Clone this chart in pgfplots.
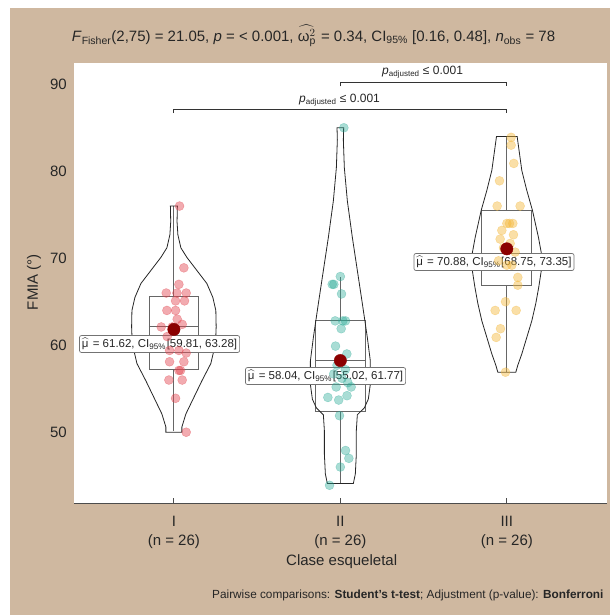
\documentclass[border=0pt]{standalone}
\usepackage{amsmath}
\usepackage{pgfplots}
\pgfplotsset{compat=1.18}
\usepackage{fontspec}
\setmainfont{Liberation Sans}
\definecolor{tanbg}{RGB}{207,184,160}
\definecolor{cI}{RGB}{228,70,80}
\definecolor{cII}{RGB}{40,170,150}
\definecolor{cIII}{RGB}{245,185,60}
\definecolor{meanred}{RGB}{139,0,0}
\begin{document}
\begin{tikzpicture}[x=1pt,y=1pt]
\path[use as bounding box, fill=white] (0,0) rectangle (610,615);
\fill[tanbg] (10,0) rectangle (610,607);
\begin{axis}[
  at={(74pt,111.7pt)}, anchor=south west,
  width=532.7pt, height=440.6pt, scale only axis,
  xmin=0.4, xmax=3.6, ymin=41.63, ymax=92.28,
  clip=false,
  axis background/.style={fill=white},
  axis x line*=bottom, axis y line*=left,
  x axis line style={draw=black!70, line width=0.8pt, -},
  y axis line style={draw=none},
  xtick={1,2,3},
  xticklabels={{I\\(n = 26)},{II\\(n = 26)},{III\\(n = 26)}},
  ytick={50,60,70,80,90},
  tick align=inside,
  major tick length=5pt,
  xtick style={draw=black!70, line width=0.8pt},
  ytick style={draw=none},
  /pgf/number format/assume math mode=true,
  tick label style={font=\fontsize{15}{19}\selectfont, text=black!85},
  yticklabel style={anchor=east, inner sep=0pt, xshift=-7pt, yshift=-2pt},
  xticklabel style={anchor=north, inner sep=0pt, align=center, yshift=-13pt},
  xlabel={Clase esqueletal}, ylabel={FMIA (°)},
  label style={font=\fontsize{15}{18}\selectfont, text=black!85},
  xlabel style={at={(axis description cs:0.5025,-0.133)}, anchor=center},
  ylabel style={at={(axis description cs:-0.075,0.502)}, anchor=center},
  title={\textit{F}\textsubscript{Fisher}(2,75) = 21.05, \textit{p} = < 0.001, $\widehat{\text{ω}_{\text{p}}^{2}}$\kern1pt{} = 0.34, CI\textsubscript{95\%} [0.16, 0.48], \textit{n}\textsubscript{obs} = 78},
  title style={at={(axis description cs:0.4496,1.0477)}, anchor=center, yshift=0pt, font=\fontsize{15}{18}\selectfont, text=black!85},
]
% jittered points
\addplot[only marks, mark=*, mark size=4.5pt, color=cI, opacity=0.45] coordinates {
(1.034,75.8)(1.060,68.7)(1.030,66.8)(0.954,65.8)(1.018,65.8)(1.074,65.8)
(1.010,64.9)(1.064,64.9)(0.958,63.8)(1.010,63.8)(1.020,62.8)(0.924,61.9)
(0.990,61.9)(0.974,59.2)(1.030,59.2)(1.074,58.9)(0.974,57.9)(1.060,57.9)
(1.030,56.9)(1.040,56.9)(0.970,55.8)(1.050,55.8)(1.010,53.7)(1.074,49.8)
(0.960,60.8)(1.050,62.2)};
\addplot[only marks, mark=*, mark size=4.5pt, color=cII, opacity=0.4] coordinates {
(2.021,84.8)(2.000,67.7)(1.951,66.8)(1.961,66.8)(2.007,65.7)(1.969,62.6)
(2.015,62.6)(2.031,62.6)(2.005,61.7)(1.971,59.7)(2.039,58.8)(1.975,55.0)
(2.065,55.0)(1.925,53.8)(1.995,51.7)(2.031,47.7)(2.051,46.8)(2.000,45.8)
(1.935,43.7)(1.980,57.5)(2.030,57.0)(1.960,56.5)(2.010,56.0)(2.045,55.5)
(1.990,53.5)(2.040,54.0)};
\addplot[only marks, mark=*, mark size=4.5pt, color=cIII, opacity=0.45] coordinates {
(3.026,83.7)(3.026,82.8)(3.042,80.7)(2.956,78.7)(2.942,75.8)(3.080,75.8)
(3.000,73.8)(3.016,73.8)(3.036,73.8)(3.066,67.6)(3.066,66.7)(2.992,64.8)
(2.930,63.8)(3.056,63.8)(2.962,61.7)(2.936,60.7)(2.992,56.7)(2.970,73.0)
(3.040,72.5)(2.960,72.0)(3.020,71.5)(2.980,71.0)(3.050,70.5)(2.950,69.5)
(3.030,69.0)(3.000,69.0)};
% boxplots: box, median, whiskers
\pgfplotsset{boxline/.style={draw=black!60, line width=0.8pt}}
\addplot[boxline] coordinates {(0.85,57.0)(1.15,57.0)(1.15,65.4)(0.85,65.4)} -- cycle;
\addplot[boxline] coordinates {(0.85,62.0)(1.15,62.0)};
\addplot[boxline] coordinates {(1,65.4)(1,75.8)};
\addplot[boxline] coordinates {(1,57.0)(1,49.9)};
\addplot[boxline] coordinates {(1.85,52.2)(2.15,52.2)(2.15,62.7)(1.85,62.7)} -- cycle;
\addplot[boxline] coordinates {(1.85,58.0)(2.15,58.0)};
\addplot[boxline] coordinates {(2,62.7)(2,67.6)};
\addplot[boxline] coordinates {(2,52.2)(2,43.9)};
\addplot[boxline] coordinates {(2.85,66.7)(3.15,66.7)(3.15,75.3)(2.85,75.3)} -- cycle;
\addplot[boxline] coordinates {(2.85,70.0)(3.15,70.0)};
\addplot[boxline] coordinates {(3,75.3)(3,83.8)};
\addplot[boxline] coordinates {(3,66.7)(3,56.7)};
% violins
\addplot[draw=black!85, line width=0.8pt] coordinates {
(0.952,49.8)(0.952,50.4)(0.928,51.9)(0.880,53.8)(0.832,55.7)(0.778,57.7)
(0.750,60.0)(0.746,61.9)(0.748,63.8)(0.766,65.3)(0.802,66.9)(0.862,68.4)
(0.922,69.9)(0.958,71.0)(0.976,72.5)(0.981,74.0)(0.979,75.8)
(1.021,75.8)(1.019,74.0)(1.024,72.5)(1.042,71.0)(1.078,69.9)(1.138,68.4)
(1.198,66.9)(1.234,65.3)(1.252,63.8)(1.254,61.9)(1.250,60.0)(1.222,57.7)
(1.168,55.7)(1.120,53.8)(1.072,51.9)(1.048,50.4)(1.048,49.8)} -- cycle;
\addplot[draw=black!85, line width=0.8pt] coordinates {
(1.922,43.9)(1.910,45.0)(1.904,47.3)(1.904,50.0)(1.898,51.8)(1.856,52.6)
(1.832,53.6)(1.820,55.3)(1.820,58.0)(1.838,60.7)(1.868,64.6)(1.898,68.4)
(1.928,72.2)(1.958,76.4)(1.976,80.2)(1.982,83.4)(1.980,84.8)
(2.020,84.8)(2.018,83.4)(2.024,80.2)(2.042,76.4)(2.072,72.2)(2.102,68.4)
(2.132,64.6)(2.162,60.7)(2.180,58.0)(2.180,55.3)(2.168,53.6)(2.144,52.6)
(2.102,51.8)(2.096,50.0)(2.096,47.3)(2.090,45.0)(2.078,43.9)} -- cycle;
\addplot[draw=black!85, line width=0.8pt] coordinates {
(2.946,56.7)(2.934,57.5)(2.910,58.8)(2.880,60.7)(2.850,62.6)(2.826,64.6)
(2.808,66.5)(2.784,69.5)(2.810,72.2)(2.846,75.3)(2.880,77.6)(2.910,79.9)
(2.938,83.8)
(3.062,83.8)(3.090,79.9)(3.120,77.6)(3.154,75.3)(3.190,72.2)(3.216,69.5)
(3.192,66.5)(3.174,64.6)(3.150,62.6)(3.120,60.7)(3.090,58.8)(3.066,57.5)
(3.054,56.7)} -- cycle;
% means
\addplot[only marks, mark=*, mark size=6.2pt, color=meanred] coordinates {
(1,61.62)(2,58.04)(3,70.88)};
% mean labels
\tikzset{mlab/.style={draw=black!55, line width=0.7pt, rounded corners=2pt, fill=white,
  inner sep=2.5pt, font=\fontsize{11.5}{13}\selectfont, text=black!85}}
\node[mlab] at (axis cs:0.914,59.94) {$\widehat{\text{μ}}$\kern1pt{} = 61.62, CI\textsubscript{95\%}\kern0.8pt[59.81, 63.28]};
\node[mlab] at (axis cs:1.911,56.26) {$\widehat{\text{μ}}$\kern1pt{} = 58.04, CI\textsubscript{95\%}\kern0.8pt[55.02, 61.77]};
\node[mlab] at (axis cs:2.923,69.37) {$\widehat{\text{μ}}$\kern1pt{} = 70.88, CI\textsubscript{95\%}\kern0.8pt[68.75, 73.35]};
% significance brackets
\addplot[draw=black!80, line width=1pt] coordinates {(1,86.49)(1,86.95)(3,86.95)(3,86.49)};
\addplot[draw=black!80, line width=1pt] coordinates {(2,89.56)(2,90.02)(3,90.02)(3,89.56)};
\node[font=\fontsize{12}{14}\selectfont, text=black!85] at (axis cs:1.995,88.02) {\textit{p}\textsubscript{adjusted} ≤ 0.001};
\node[font=\fontsize{12}{14}\selectfont, text=black!85] at (axis cs:2.494,91.21) {\textit{p}\textsubscript{adjusted} ≤ 0.001};
\end{axis}
\node[anchor=east, font=\fontsize{11.8}{14}\selectfont, text=black!85] at (607,20)
  {Pairwise comparisons: \textbf{Student's t-test}; Adjustment (p-value): \textbf{Bonferroni}};
\end{tikzpicture}
\end{document}
